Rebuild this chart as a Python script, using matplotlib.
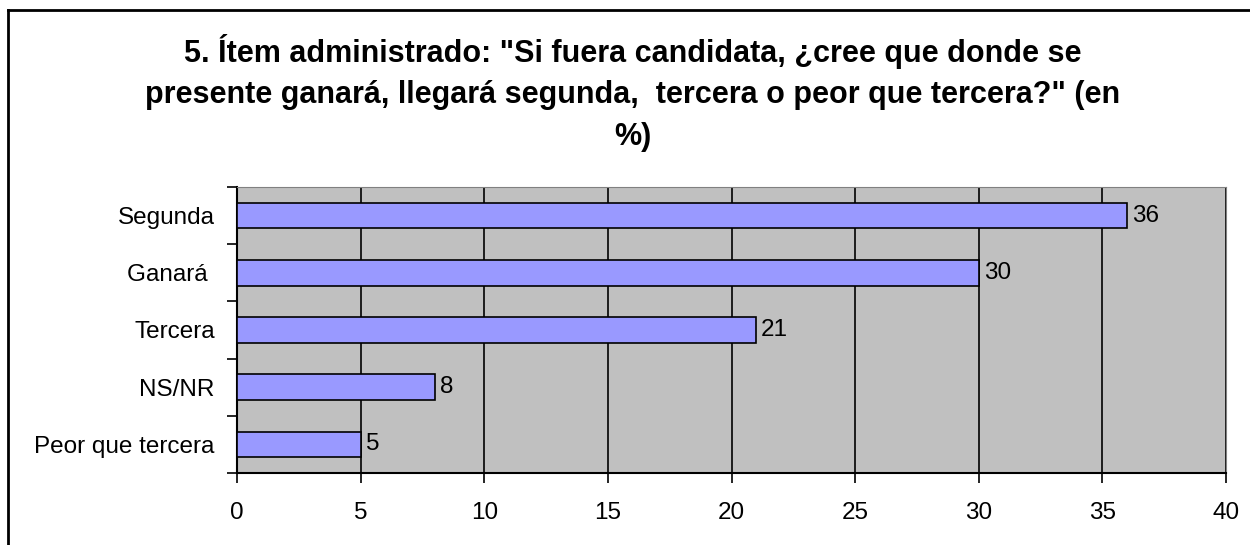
import matplotlib.pyplot as plt
import numpy as np

plt.rcParams['font.family'] = ['Liberation Sans', 'DejaVu Sans']

categories = ["Segunda", "Ganará ", "Tercera", "NS/NR", "Peor que tercera"]
values = [36, 30, 21, 8, 5]
xticks = [0, 5, 10, 15, 20, 25, 30, 35, 40]
title = ('5. Ítem administrado: "Si fuera candidata, ¿cree que donde se\n'
         'presente ganará, llegará segunda,  tercera o peor que tercera?" (en\n'
         '%)')

fig = plt.figure(figsize=(12.5, 5.45), dpi=100)
ax = fig.add_axes([237 / 1250, 1 - 473 / 545, (1226 - 237) / 1250, (473 - 187) / 545])

# outer frame (left and top edges visible only)
fig.add_artist(plt.Line2D([8 / 1250, 8 / 1250], [0, 1 - 10 / 545], color='black', lw=2, transform=fig.transFigure))
fig.add_artist(plt.Line2D([8 / 1250, 1], [1 - 10 / 545, 1 - 10 / 545], color='black', lw=2, transform=fig.transFigure))

n = len(categories)
ypos = np.arange(n)[::-1]
ax.set_facecolor('#C0C0C0')
ax.barh(ypos, values, height=0.45, color='#9999FF', edgecolor='black', linewidth=1.2, zorder=3)
for y, v in zip(ypos, values):
    ax.text(v + 0.2, y, str(v), va='center', ha='left', fontsize=17.5, zorder=4)

ax.set_xlim(0, 40)
ax.set_ylim(-0.5, n - 0.5)
ax.set_xticks(xticks)
ax.set_xticklabels([str(t) for t in xticks], fontsize=17.5)
ax.xaxis.grid(True, color='black', lw=1.2, zorder=1)
ax.set_axisbelow(True)

ax.set_yticks(ypos)
ax.set_yticklabels(categories, fontsize=17.5)
ax.tick_params(axis='y', which='major', length=0, pad=16)
ax.set_yticks(np.arange(-0.5, n, 1.0), minor=True)
ax.tick_params(axis='y', which='minor', length=7, width=1.2, direction='out')
ax.tick_params(axis='x', length=7, width=1.2, direction='out', pad=14)

ax.spines['left'].set_color('black')
ax.spines['bottom'].set_color('black')
ax.spines['left'].set_linewidth(1.5)
ax.spines['bottom'].set_linewidth(1.5)
ax.spines['top'].set_color('#808080')
ax.spines['right'].set_color('#808080')

fig.text(633 / 1250, 1 - 34 / 545, title, ha='center', va='top', fontsize=22,
         fontweight='bold', linespacing=1.5)

fig.savefig('out.png', dpi=100)
